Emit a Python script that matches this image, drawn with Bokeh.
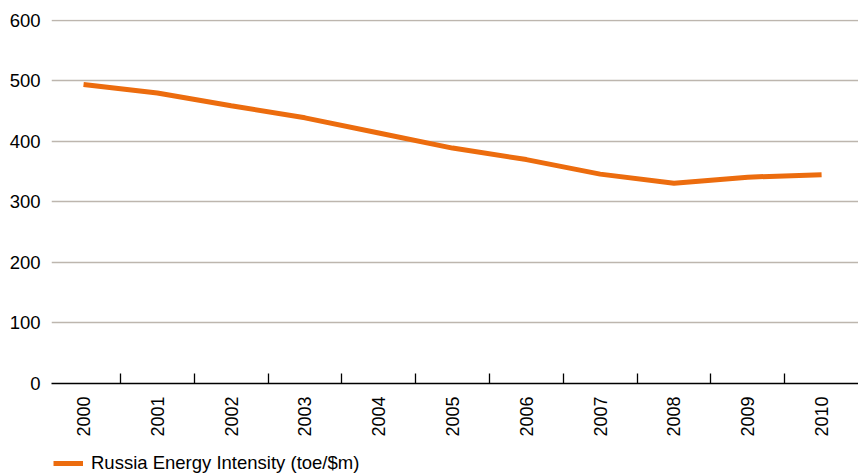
from bokeh.plotting import figure
from bokeh.layouts import column
from bokeh.models import Range1d, FixedTicker, Legend, LegendItem, ColumnDataSource
from bokeh.embed import file_html
from bokeh.resources import INLINE
import math

years = [2000, 2001, 2002, 2003, 2004, 2005, 2006, 2007, 2008, 2009, 2010]
intensity = [494, 480, 459, 439, 414, 389, 370, 346, 331, 341, 345]
y_ticks = [0, 100, 200, 300, 400, 500, 600]
series_name = "Russia Energy Intensity (toe/$m)"

FONT = "Liberation Sans"
FS = "18px"
ORANGE = "#ec6c0e"
GRID = "#bdb6ae"

p = figure(width=858, height=444, output_backend="svg", toolbar_location=None,
           x_range=Range1d(1999.566, 2010.5), y_range=Range1d(0, 601.5),
           min_border_left=51, min_border_right=0, min_border_top=19,
           min_border_bottom=61)
p.outline_line_color = None
p.background_fill_color = "white"
p.border_fill_color = "white"

src = ColumnDataSource(dict(x=years, y=intensity))
r = p.line("x", "y", source=src, line_color=ORANGE, line_width=5)

boundaries = [y + 0.5 for y in years[:-1]]
xa = p.xaxis[0]
xa.ticker = FixedTicker(ticks=years, minor_ticks=boundaries)
xa.major_label_overrides = {y: str(y) for y in years}
xa.major_tick_in = 0
xa.major_tick_out = 0
xa.minor_tick_in = 10
xa.minor_tick_out = 0
xa.minor_tick_line_color = "black"
xa.minor_tick_line_width = 1.3
xa.axis_line_color = "black"
xa.axis_line_width = 1.5
xa.major_label_orientation = math.pi / 2
xa.major_label_standoff = 13
xa.major_label_text_font = FONT
xa.major_label_text_font_size = FS
xa.major_label_text_color = "black"

ya = p.yaxis[0]
ya.ticker = FixedTicker(ticks=y_ticks)
ya.axis_line_color = None
ya.major_tick_line_color = None
ya.minor_tick_line_color = None
ya.major_label_standoff = 5
ya.major_label_text_font = FONT
ya.major_label_text_font_size = "18.5px"
ya.major_label_text_color = "black"

p.xgrid.grid_line_color = None
p.ygrid.ticker = FixedTicker(ticks=[100, 200, 300, 400, 500, 600])
p.ygrid.grid_line_color = GRID
p.ygrid.grid_line_width = 1.3

# legend strip below the chart (its line lies outside the strip's visible range)
p2 = figure(width=858, height=32, output_backend="svg", toolbar_location=None,
            x_range=Range1d(0, 1), y_range=Range1d(0, 1),
            x_axis_type=None, y_axis_type=None, min_border=0)
p2.grid.visible = False
p2.outline_line_color = None
lr = p2.line(x=years, y=intensity, line_color=ORANGE, line_width=5)
legend = Legend(items=[LegendItem(label=series_name, renderers=[lr])],
                location=(2, 2), orientation="horizontal",
                border_line_color=None, background_fill_alpha=0,
                label_text_font=FONT, label_text_font_size="18.5px",
                label_text_color="black", glyph_width=30, glyph_height=18,
                label_standoff=8, label_height=18, padding=0, margin=0, spacing=0)
p2.add_layout(legend, "center")

layout = column(p, p2, spacing=0)
open("out.html", "w").write(file_html(layout, INLINE))
